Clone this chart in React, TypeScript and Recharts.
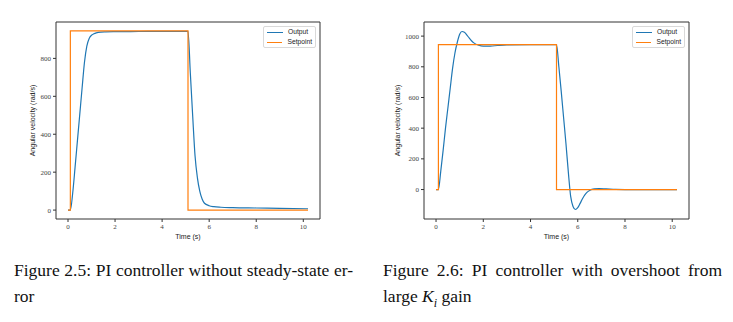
import React from "react";
import { LineChart, Line, XAxis, YAxis, Legend, ReferenceArea, Label } from "recharts";

// Figure 2.5: PI controller, no steady-state error
const timeA = [0, 0.1, 0.2, 0.3, 0.4, 0.5, 0.6, 0.7, 0.8, 0.9, 1.0, 1.1, 1.2, 1.4, 1.6, 2.0, 3.0, 4.0, 5.1, 5.2, 5.3, 5.4, 5.5, 5.6, 5.7, 5.8, 6.0, 6.2, 6.5, 7.0, 8.0, 9.0, 10.2];
const outputA = [0, 0, 90, 225, 365, 505, 645, 780, 865, 905, 922, 930, 935, 939, 940, 941, 942, 943, 943, 720, 495, 285, 170, 100, 58, 36, 23, 18, 15, 13, 11, 9, 7];

// Figure 2.6: PI controller, overshoot from large Ki
const timeB = [0, 0.1, 0.2, 0.3, 0.4, 0.5, 0.6, 0.7, 0.8, 0.9, 1.0, 1.1, 1.2, 1.3, 1.4, 1.5, 1.6, 1.8, 2.0, 2.3, 2.6, 3.0, 4.0, 5.1, 5.2, 5.3, 5.4, 5.5, 5.6, 5.7, 5.8, 5.9, 6.0, 6.1, 6.2, 6.3, 6.4, 6.5, 6.7, 6.9, 7.2, 7.6, 8.0, 9.0, 10.2];
const outputB = [0, 0, 120, 255, 400, 530, 660, 790, 890, 960, 1012, 1030, 1025, 1008, 988, 970, 956, 941, 935, 935, 939, 943, 945, 945, 800, 640, 470, 300, 115, -45, -110, -130, -118, -90, -60, -35, -17, -6, 4, 6, 4, 1, 0, 0, 0];

// setpoint step (same in both figures)
const setpointTime = [0, 0.1, 5.1, 10.2];
const setpointValue = [0, 945, 0, 0];

const xTicks = [0, 2, 4, 6, 8, 10];
const yTicksA = [0, 200, 400, 600, 800];
const yTicksB = [0, 200, 400, 600, 800, 1000];

const toRows = (ts: number[], vs: number[]) => ts.map((t, i) => ({ t, v: vs[i] }));

const X_DOMAIN: [number, number] = [-0.51, 10.71];
const tickFont = { fontFamily: "Liberation Serif", fontSize: 7, fill: "#444" };
const labelFont = { fontFamily: "Liberation Sans", fontSize: 7, fill: "#222" };

const PlotLegend = ({ payload }: any) => (
  <div
    style={{
      border: "1px solid #d9d9d9",
      borderRadius: 2,
      background: "rgba(255,255,255,0.8)",
      padding: "0 3px",
      boxSizing: "border-box",
      width: 53,
    }}
  >
    {(payload || []).map((entry: any) => (
      <div key={entry.value} style={{ display: "flex", alignItems: "center", height: 10 }}>
        <span style={{ width: 16, height: 0, borderTop: `1.3px solid ${entry.color}`, marginRight: 5 }} />
        <span style={{ fontFamily: "Liberation Sans", fontSize: 6.7, color: "#222", lineHeight: "10px" }}>
          {entry.value}
        </span>
      </div>
    ))}
  </div>
);

type FigProps = {
  times: number[];
  values: number[];
  yDomain: [number, number];
  yTicks: number[];
  yAxisWidth: number;
  marginLeft: number;
  marginRight: number;
  width: number;
  legendLeft: number;
};

const Figure = ({ times, values, yDomain, yTicks, yAxisWidth, marginLeft, marginRight, width, legendLeft }: FigProps) => (
  <LineChart width={width} height={260} margin={{ top: 22, right: marginRight, bottom: 5, left: marginLeft }}>
    <XAxis
      dataKey="t"
      type="number"
      domain={X_DOMAIN}
      ticks={xTicks}
      allowDataOverflow
      axisLine={false}
      tickLine={{ stroke: "#333" }}
      tickSize={3}
      tick={tickFont}
      height={36}
    >
      <Label value="Time (s)" position="center" style={labelFont} />
    </XAxis>
    <YAxis
      type="number"
      domain={yDomain}
      ticks={yTicks}
      allowDataOverflow
      axisLine={false}
      tickLine={{ stroke: "#333" }}
      tickSize={3}
      tick={tickFont}
      width={yAxisWidth}
    >
      <Label value="Angular velocity (rad/s)" angle={-90} position="center" style={labelFont} />
    </YAxis>
    <ReferenceArea
      x1={X_DOMAIN[0]}
      x2={X_DOMAIN[1]}
      y1={yDomain[0]}
      y2={yDomain[1]}
      fill="none"
      stroke="#333"
      strokeWidth={1}
      ifOverflow="extendDomain"
    />
    <Line
      data={toRows(times, values)}
      dataKey="v"
      name="Output"
      type="monotone"
      stroke="#1f77b4"
      strokeWidth={1.2}
      dot={false}
      isAnimationActive={false}
    />
    <Line
      data={toRows(setpointTime, setpointValue)}
      dataKey="v"
      name="Setpoint"
      type="stepAfter"
      stroke="#ff7f0e"
      strokeWidth={1.2}
      dot={false}
      isAnimationActive={false}
    />
    <Legend
      layout="horizontal"
      verticalAlign="middle"
      align="center"
      content={<PlotLegend />}
      wrapperStyle={{ position: "absolute", left: legendLeft, top: 26, width: 53, height: 22 }}
    />
  </LineChart>
);

const captionStyle: React.CSSProperties = {
  position: "absolute",
  fontFamily: "Liberation Serif",
  fontSize: 17.5,
  lineHeight: "26px",
  color: "#111",
  width: 339,
  textAlign: "justify",
  whiteSpace: "nowrap",
};

export default function App() {
  return (
    <div style={{ position: "absolute", left: 0, top: 0, width: 733, height: 322, background: "#fff", overflow: "hidden" }}>
      <div style={{ position: "absolute", left: 0, top: 0 }}>
        <Figure
          times={timeA}
          values={outputA}
          yDomain={[-47, 992]}
          yTicks={yTicksA}
          yAxisWidth={46}
          marginLeft={10}
          marginRight={50}
          width={370}
          legendLeft={263}
        />
      </div>
      <div style={{ position: "absolute", left: 370, top: 0 }}>
        <Figure
          times={timeB}
          values={outputB}
          yDomain={[-192, 1092]}
          yTicks={yTicksB}
          yAxisWidth={53}
          marginLeft={1}
          marginRight={44}
          width={363}
          legendLeft={262}
        />
      </div>
      <div style={{ ...captionStyle, left: 14, top: 257, textAlignLast: "justify" }}>
        Figure 2.5: PI controller without steady-state er-
      </div>
      <div style={{ ...captionStyle, left: 14, top: 283 }}>ror</div>
      <div style={{ ...captionStyle, left: 383, top: 257, textAlignLast: "justify" }}>
        Figure 2.6: PI controller with overshoot from
      </div>
      <div style={{ ...captionStyle, left: 383, top: 283 }}>
        large <i>K</i>
        <sub style={{ fontSize: 12, lineHeight: 0 }}>
          <i>i</i>
        </sub>{" "}
        gain
      </div>
    </div>
  );
}
